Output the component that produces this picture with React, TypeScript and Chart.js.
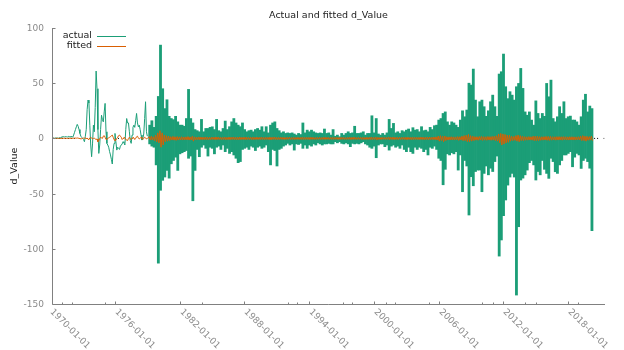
import React, { useEffect, useRef } from 'react';
import { Chart, registerables } from 'chart.js';

Chart.register(...registerables);

// ---------- text ----------
const TITLE = 'Actual and fitted d_Value';
const Y_TITLE = 'd_Value';
const SERIES_LABELS = ['actual', 'fitted'];

// ---------- axes ----------
const Y_MIN = -150;
const Y_MAX = 100;
const Y_TICKS = [-150, -100, -50, 0, 50, 100];
const X_MIN = 1970.16;
const X_MAX = 2021.43;
const X_TICK_YEARS = [1970, 1976, 1982, 1988, 1994, 2000, 2006, 2012, 2018];
const X_TICK_LABELS = ['1970-01-01', '1976-01-01', '1982-01-01', '1988-01-01', '1994-01-01', '2000-01-01', '2006-01-01', '2012-01-01', '2018-01-01'];
const X_MINOR_YEARS = [1971.1, 1972.0, 1975.1, 1984.1, 1992.0, 1992.9, 1997.1, 1998.0, 2001.1, 2002.0, 2005.1, 2010.0, 2011.0, 2014.0, 2015.0, 2018.95];

// ---------- data: early (monthly) part ----------
const EARLY_START = 1970.25;
const actualMonthly = [
  0, 0.3, 0, 0.5, 0.2, 0.4, 0, 0.6, 0.3, 1.0,
  1.5, 1.4, 1.6, 1.3, 1.7, 1.5, 1.2, 1.8, 1.4, 1.6,
  1.2, 2.0, 1.0, 3.0, 5.5, 8.0, 10.5, 12.7, 11.0, 8.0,
  4.5, 2.0, 1.0, 0, -1.0, -3.0, 2.0, 8.0, 26.0, 34.7,
  32.0, 12.0, -6.0, -16.6, -5.0, 12.0, 6.0, 28.0, 61.0, 45.0,
  8.0, -13.6, -6.0, 8.0, 21.0, 17.0, 15.0, 24.0, 31.7, 6.0,
  -4.5, -6.0, -8.0, -12.0, -15.0, -19.0, -23.2, -10.0, -4.5, 4.5,
  -3.0, -10.6, -8.0, -9.0, -10.0, -7.0, -6.0, -5.0, -3.0, -4.0,
  -6.0, 8.0, 18.0, 14.0, 14.0, 6.0, -2.0, -4.5, 3.0, 10.0,
  12.0, 10.0, 16.0, 22.6, 14.0, 10.5, 12.0, 8.0, 3.0, -1.5,
  0, 4.0, 18.0, 33.2, 6.0, 2.0,
];
const fittedMonthly = [
  0, 0.1, 0, -0.1, 0.1, 0, 0.1, 0, -0.1, 0,
  0.1, 0, 0.2, 0, 0.1, 0, -0.1, 0.1, 0, 0.2,
  0, 0.1, 0, 0.2, 0.1, 0.3, 0.2, 0.4, 0.2, 0.1,
  -0.2, -0.4, -0.3, 0, 0.3, 0.2, 0.5, -0.5, 0.4, -0.8,
  -1.0, 0.5, 0.8, 0.5, -0.5, 0, 0.2, -0.5, -1.0, -0.5,
  -3.0, -2.0, 0, 1.0, 0.5, 0, 2.0, 2.5, 1.0, -1.0,
  -0.5, 0, 0.5, 1.0, 1.5, 2.5, 3.0, 1.0, -1.0, -2.0,
  -1.5, 0, 1.0, 2.5, 3.0, 2.0, 1.0, -1.0, 0, 1.0,
  0.5, -1.0, -1.5, -2.0, 0, 1.0, -0.5, -1.0, 0, 1.0,
  0.5, -1.0, 0, 1.5, 2.0, 0.5, -0.5, 0, 1.0, 0,
  -1.0, 0, 1.0, 0.5, -0.5, 0,
];

// ---------- data: dense (daily) part, read as high / low per 0.2-year slice ----------
const DENSE_START = 1979.17;
const DENSE_STEP = 0.2;
const actualHigh = [
  12, 16, 10, 20, 38, 84.5, 45, 27, 35, 20,
  18, 17, 20, 15, 12, 12, 11, 18, 44.4, 18,
  14, 8, 7, 6, 17.2, 6, 9, 9, 10, 10.5,
  8, 17.2, 7, 6, 9, 15.7, 8, 10.6, 15, 18,
  14, 12, 10.6, 14, 8, 6, 7, 7.5, 6, 8,
  9, 7.5, 10.6, 6, 10.6, 5, 12, 14, 15, 9,
  7, 5, 6, 4.5, 5, 4.5, 5, 4, 3, 4.5,
  3.5, 14, 5, 7.5, 6, 7.5, 6, 5, 4.5, 5,
  4.5, 8.5, 4.5, 5, 3, 8, 2, 3, 1.5, 4.5,
  3, 4.5, 6, 4.5, 5, 11, 4.5, 4.5, 5, 6,
  3, 4.5, 4.5, 20.5, 5, 18, 4, 3, 4.5, 3,
  5, 17.2, 9, 13.6, 5, 6, 4.5, 7, 6, 7.5,
  8.5, 6, 9.7, 7.5, 8, 6, 10.6, 7, 7.5, 6,
  10, 8, 11.5, 12, 16.6, 18, 22.6, 24, 15, 12,
  15, 14, 12, 10, 16.6, 25, 19.6, 25.7, 50, 48.3,
  62.8, 34.7, 19.6, 33.2, 34.7, 28.7, 20, 25, 33.2, 39.2,
  28.7, 20, 58.3, 60.4, 76.4, 46.8, 36, 42.3, 39.2, 34.7,
  46.8, 49.8, 63.4, 45.3, 24, 21, 24, 16.6, 12, 34,
  22.6, 18, 22.6, 20, 49.8, 37.7, 52.8, 18, 15, 19.6,
  28.7, 22.6, 33.2, 18, 19.6, 20.2, 16.6, 16.6, 15, 12,
  19.6, 34.7, 40, 24, 29.3, 27,
];
const actualLow = [
  -5, -7, -8, -24, -113, -47, -38, -35, -29, -36,
  -23, -20, -17, -29, -14, -13, -12, -11, -18, -16,
  -56.5, -29, -10, -16.6, -8, -6, -9, -16, -8, -9,
  -14, -8, -7, -10, -6, -12, -9, -13.6, -12, -15,
  -18, -22, -21, -10, -9, -8, -10, -7, -8, -11,
  -8, -7, -9, -8, -6, -12, -24, -10, -11, -25,
  -10, -9, -7, -6, -4.5, -6, -5, -10.6, -5, -5.5,
  -4.5, -9, -6, -9, -6, -7, -5, -6, -4, -5,
  -6, -5, -5, -4.5, -5, -5, -3, -4, -3, -4.5,
  -5, -4, -5, -7.5, -4.5, -5, -4.5, -5, -4, -3,
  -5, -6, -8, -9, -7, -17.5, -6, -5, -5, -7.5,
  -6, -10.6, -7, -6, -8, -7, -9, -6, -10, -12,
  -8, -12, -13.6, -8, -10, -8, -9, -12, -10, -15,
  -8, -9, -7, -10, -18, -20, -42, -28, -14, -15,
  -13, -14, -12, -28.7, -15, -48.3, -20, -25, -69.4, -34.7,
  -42.9, -30, -28.7, -28.7, -48.3, -31.7, -25, -33, -27, -30,
  -21, -16, -106.6, -92, -70, -55.8, -42.3, -35, -31.7, -35,
  -141.9, -80, -37.7, -36, -33, -28.7, -22, -20, -24, -37.7,
  -30, -33, -20, -28, -31.7, -36.2, -18, -21, -30.2, -31.7,
  -24, -20, -15, -15, -13.6, -12, -25.7, -17, -13.6, -15,
  -27.2, -20, -18, -21, -27, -83.6,
];
const fittedHigh = [
  1.5, 2, 1.5, 3, 5, 7, 5, 3, 2.5, 2,
  1.5, 1.8, 1.5, 1.6, 1.4, 1.5, 1.3, 1.4, 1.6, 1.3,
  2, 1.4, 1.2, 1.3, 1.2, 1.1, 1.3, 1.2, 1.0, 1.2,
  1.1, 1.3, 1.2, 1.0, 1.1, 1.2, 1.0, 1.2, 1.1, 1.3,
  1.2, 1.1, 1.3, 1.0, 1.1, 1.2, 1.0, 1.1, 1.2, 1.0,
  1.1, 1.0, 1.2, 1.0, 1.1, 1.0, 1.2, 1.1, 1.3, 1.1,
  1.0, 1.1, 1.0, 0.9, 1.0, 1.1, 0.9, 1.0, 0.9, 1.0,
  0.9, 1.2, 1.0, 1.1, 1.0, 1.1, 1.0, 0.9, 1.0, 1.0,
  0.9, 1.1, 1.0, 1.0, 0.9, 1.1, 0.9, 1.0, 0.9, 1.0,
  1.0, 0.9, 1.0, 1.1, 1.0, 1.2, 0.9, 1.0, 1.0, 1.0,
  0.9, 1.0, 1.0, 1.3, 1.0, 1.3, 1.0, 0.9, 1.0, 0.9,
  1.0, 1.3, 1.1, 1.2, 1.0, 1.0, 1.0, 1.1, 1.0, 1.1,
  1.1, 1.0, 1.2, 1.1, 1.1, 1.0, 1.2, 1.1, 1.1, 1.2,
  1.2, 1.1, 1.3, 1.4, 2.0, 2.5, 2.0, 2.2, 1.5, 1.4,
  1.5, 1.4, 1.4, 1.6, 1.5, 2.0, 2.5, 3.0, 3.6, 2.5,
  2.0, 1.6, 1.5, 1.7, 1.8, 1.6, 1.5, 1.7, 1.6, 1.8,
  2.0, 2.5, 4.0, 4.5, 4.0, 3.5, 3.0, 3.0, 2.0, 1.8,
  2.5, 3.0, 2.5, 2.0, 1.6, 1.5, 1.6, 1.5, 2.0, 2.0,
  2.0, 1.6, 1.5, 1.6, 1.8, 1.7, 1.8, 1.5, 1.5, 1.6,
  1.6, 1.5, 1.6, 1.5, 1.4, 1.5, 1.5, 1.4, 1.4, 1.5,
  2.0, 2.5, 2.0, 1.8, 1.6, 2.0,
];
const fittedLow = [
  -1.5, -1.5, -2, -3, -4, -8, -6, -3, -2.5, -2,
  -1.5, -1.6, -1.8, -1.5, -1.4, -1.5, -1.4, -1.3, -1.5, -1.4,
  -2.5, -1.5, -1.2, -1.3, -1.1, -1.2, -1.2, -1.3, -1.1, -1.0,
  -1.2, -1.1, -1.0, -1.2, -1.1, -1.3, -1.1, -1.2, -1.0, -1.2,
  -1.3, -1.2, -1.1, -1.0, -1.2, -1.1, -1.0, -1.2, -1.1, -1.0,
  -1.0, -1.1, -1.0, -1.2, -1.0, -1.1, -1.3, -1.0, -1.1, -1.2,
  -1.0, -0.9, -1.0, -1.0, -0.9, -1.0, -1.0, -1.1, -0.9, -1.0,
  -1.0, -1.1, -1.0, -1.0, -1.1, -0.9, -1.0, -1.0, -0.9, -1.0,
  -1.0, -1.0, -0.9, -1.0, -1.0, -1.0, -0.9, -1.0, -1.0, -0.9,
  -1.0, -1.0, -0.9, -1.1, -1.0, -1.0, -1.0, -0.9, -1.0, -1.0,
  -1.0, -1.0, -1.1, -1.2, -1.0, -1.5, -1.0, -1.0, -0.9, -1.0,
  -1.0, -1.2, -1.0, -1.1, -1.0, -1.1, -1.0, -1.0, -1.1, -1.2,
  -1.0, -1.2, -1.2, -1.0, -1.1, -1.1, -1.0, -1.2, -1.1, -1.2,
  -1.1, -1.2, -1.2, -1.5, -2.5, -2.0, -3.0, -2.0, -1.5, -1.4,
  -1.4, -1.5, -1.4, -1.8, -1.5, -2.0, -2.0, -3.0, -3.0, -2.5,
  -2.0, -1.6, -1.7, -1.5, -1.8, -1.6, -1.7, -1.5, -1.7, -1.6,
  -2.0, -2.5, -4.0, -6.0, -5.0, -4.0, -3.5, -2.5, -2.0, -1.8,
  -2.5, -3.0, -2.0, -2.0, -1.7, -1.6, -1.5, -1.6, -2.0, -2.0,
  -2.0, -1.7, -1.6, -1.5, -1.7, -1.8, -1.6, -1.5, -1.6, -1.5,
  -1.5, -1.6, -1.4, -1.5, -1.5, -1.4, -1.5, -1.5, -1.4, -1.4,
  -2.0, -2.0, -2.5, -1.7, -1.6, -2.0,
];

// dotted (missing-value) segments along zero, [startYear, endYear]
const dotSegments: [number, number][] = [
  [1970.25, 1972.3],
  [1976.0, 1976.45],
  [2020.42, 2020.9],
  [2021.3, 2021.36],
];

// ---------- style ----------
const GREEN = '#1b9e77';
const ORANGE = '#d95f02';
const AXIS_COLOR = '#808080';
const TICK_TEXT = '#8a8a8a';
const DARK_TEXT = '#222222';
const FONT_FAMILY = '"DejaVu Sans", sans-serif';

type Pt = { x: number; y: number | null };

function buildMonthly(monthly: number[]): Pt[] {
  return monthly.map((v, i) => ({ x: EARLY_START + i / 12, y: v }));
}

function buildZigzag(high: number[], low: number[]): Pt[] {
  const pts: Pt[] = [];
  high.forEach((h, k) => {
    const t = DENSE_START + k * DENSE_STEP;
    pts.push({ x: t, y: h });
    pts.push({ x: t + DENSE_STEP / 2, y: low[k] });
  });
  return pts;
}

function buildRanges(high: number[], low: number[]) {
  return high.map((h, k) => ({ x: DENSE_START + k * DENSE_STEP + DENSE_STEP / 4, y: [low[k], h] }));
}

function buildDots(): Pt[] {
  const pts: Pt[] = [];
  dotSegments.forEach(([s, e]) => {
    pts.push({ x: s, y: 0 });
    pts.push({ x: e, y: 0 });
    pts.push({ x: e + 0.01, y: null });
  });
  return pts;
}

const decorPlugin = {
  id: 'gretlDecor',
  afterDraw(chart: any) {
    const { ctx, chartArea: a } = chart;
    const xs = chart.scales.x;
    const ys = chart.scales.y;
    ctx.save();
    const bx = Math.round(a.left) + 0.5;
    const by = Math.round(a.bottom) + 0.5;
    const topY = Math.round(ys.getPixelForValue(Y_MAX));
    ctx.strokeStyle = AXIS_COLOR;
    ctx.lineWidth = 1;
    ctx.beginPath();
    ctx.moveTo(bx, topY);
    ctx.lineTo(bx, by);
    ctx.lineTo(Math.round(a.right), by);
    ctx.stroke();

    ctx.font = `9px ${FONT_FAMILY}`;
    ctx.fillStyle = TICK_TEXT;
    ctx.textAlign = 'right';
    ctx.textBaseline = 'middle';
    Y_TICKS.forEach((v) => {
      const py = Math.round(ys.getPixelForValue(v)) + 0.5;
      ctx.beginPath();
      ctx.moveTo(bx, py);
      ctx.lineTo(bx + 3, py);
      ctx.stroke();
      ctx.fillText(String(v), a.left - 8, py);
    });

    X_MINOR_YEARS.forEach((yr) => {
      const px = Math.round(xs.getPixelForValue(yr)) + 0.5;
      ctx.beginPath();
      ctx.moveTo(px, by);
      ctx.lineTo(px, by - 2);
      ctx.stroke();
    });
    X_TICK_YEARS.forEach((yr, i) => {
      const px = Math.round(xs.getPixelForValue(yr)) + 0.5;
      if (px > bx + 1) {
        ctx.beginPath();
        ctx.moveTo(px, by);
        ctx.lineTo(px, by - 3);
        ctx.stroke();
      }
      ctx.save();
      ctx.translate(px + 1, by + 6);
      ctx.rotate(Math.PI / 4);
      ctx.textAlign = 'left';
      ctx.textBaseline = 'middle';
      ctx.fillText(X_TICK_LABELS[i], 0, 0);
      ctx.restore();
    });

    ctx.fillStyle = DARK_TEXT;
    ctx.font = `9.5px ${FONT_FAMILY}`;
    ctx.textAlign = 'center';
    ctx.textBaseline = 'alphabetic';
    ctx.fillText(TITLE, (a.left + a.right) / 2, 17.5);

    ctx.save();
    ctx.translate(16.5, (a.top + a.bottom) / 2);
    ctx.rotate(-Math.PI / 2);
    ctx.textAlign = 'center';
    ctx.fillText(Y_TITLE, 0, 0);
    ctx.restore();

    const legendColors = [GREEN, ORANGE];
    const baselines = [38, 47.5];
    ctx.textAlign = 'right';
    SERIES_LABELS.forEach((lab, i) => {
      ctx.fillStyle = DARK_TEXT;
      ctx.fillText(lab, 92, baselines[i]);
      ctx.strokeStyle = legendColors[i];
      ctx.beginPath();
      const ly = Math.round(baselines[i] - 2) + 0.5;
      ctx.moveTo(97, ly);
      ctx.lineTo(126, ly);
      ctx.stroke();
    });
    ctx.restore();
  },
};

export default function App() {
  const canvasRef = useRef<HTMLCanvasElement | null>(null);

  useEffect(() => {
    if (!canvasRef.current) return;
    const fitted = [...buildMonthly(fittedMonthly), ...buildZigzag(fittedHigh, fittedLow)];
    const chart = new Chart(canvasRef.current, {
      type: 'line',
      data: {
        datasets: [
          {
            type: 'line',
            label: SERIES_LABELS[1],
            data: fitted as any,
            borderColor: ORANGE,
            borderWidth: 1,
            pointRadius: 0,
            borderJoinStyle: 'bevel',
            order: 0,
          },
          {
            type: 'line',
            label: SERIES_LABELS[0],
            data: buildMonthly(actualMonthly) as any,
            borderColor: GREEN,
            borderWidth: 1,
            pointRadius: 0,
            borderJoinStyle: 'bevel',
            order: 1,
          },
          {
            type: 'bar',
            label: SERIES_LABELS[0] + ' (daily)',
            data: buildRanges(actualHigh, actualLow) as any,
            backgroundColor: GREEN,
            borderWidth: 0,
            barPercentage: 1,
            categoryPercentage: 1,
            order: 1,
          },
          {
            type: 'line',
            label: 'missing',
            data: buildDots() as any,
            borderColor: '#000000',
            borderWidth: 1,
            borderDash: [1, 2],
            pointRadius: 0,
            spanGaps: false,
            order: 2,
          },
        ],
      },
      options: {
        animation: false,
        responsive: false,
        devicePixelRatio: 1,
        layout: { padding: { left: 52, right: 19, top: 28, bottom: 46 } },
        elements: { line: { tension: 0 } },
        scales: {
          x: { type: 'linear', min: X_MIN, max: X_MAX, display: false, offset: false },
          y: { type: 'linear', min: Y_MIN, max: Y_MAX, display: false },
        },
        plugins: {
          legend: { display: false },
          title: { display: false },
          tooltip: { enabled: false },
        },
      },
      plugins: [decorPlugin],
    });
    return () => chart.destroy();
  }, []);

  return (
    <div style={{ position: 'absolute', left: 0, top: 0, width: 624, height: 350, background: '#fff' }}>
      <canvas ref={canvasRef} width={624} height={350} />
    </div>
  );
}
